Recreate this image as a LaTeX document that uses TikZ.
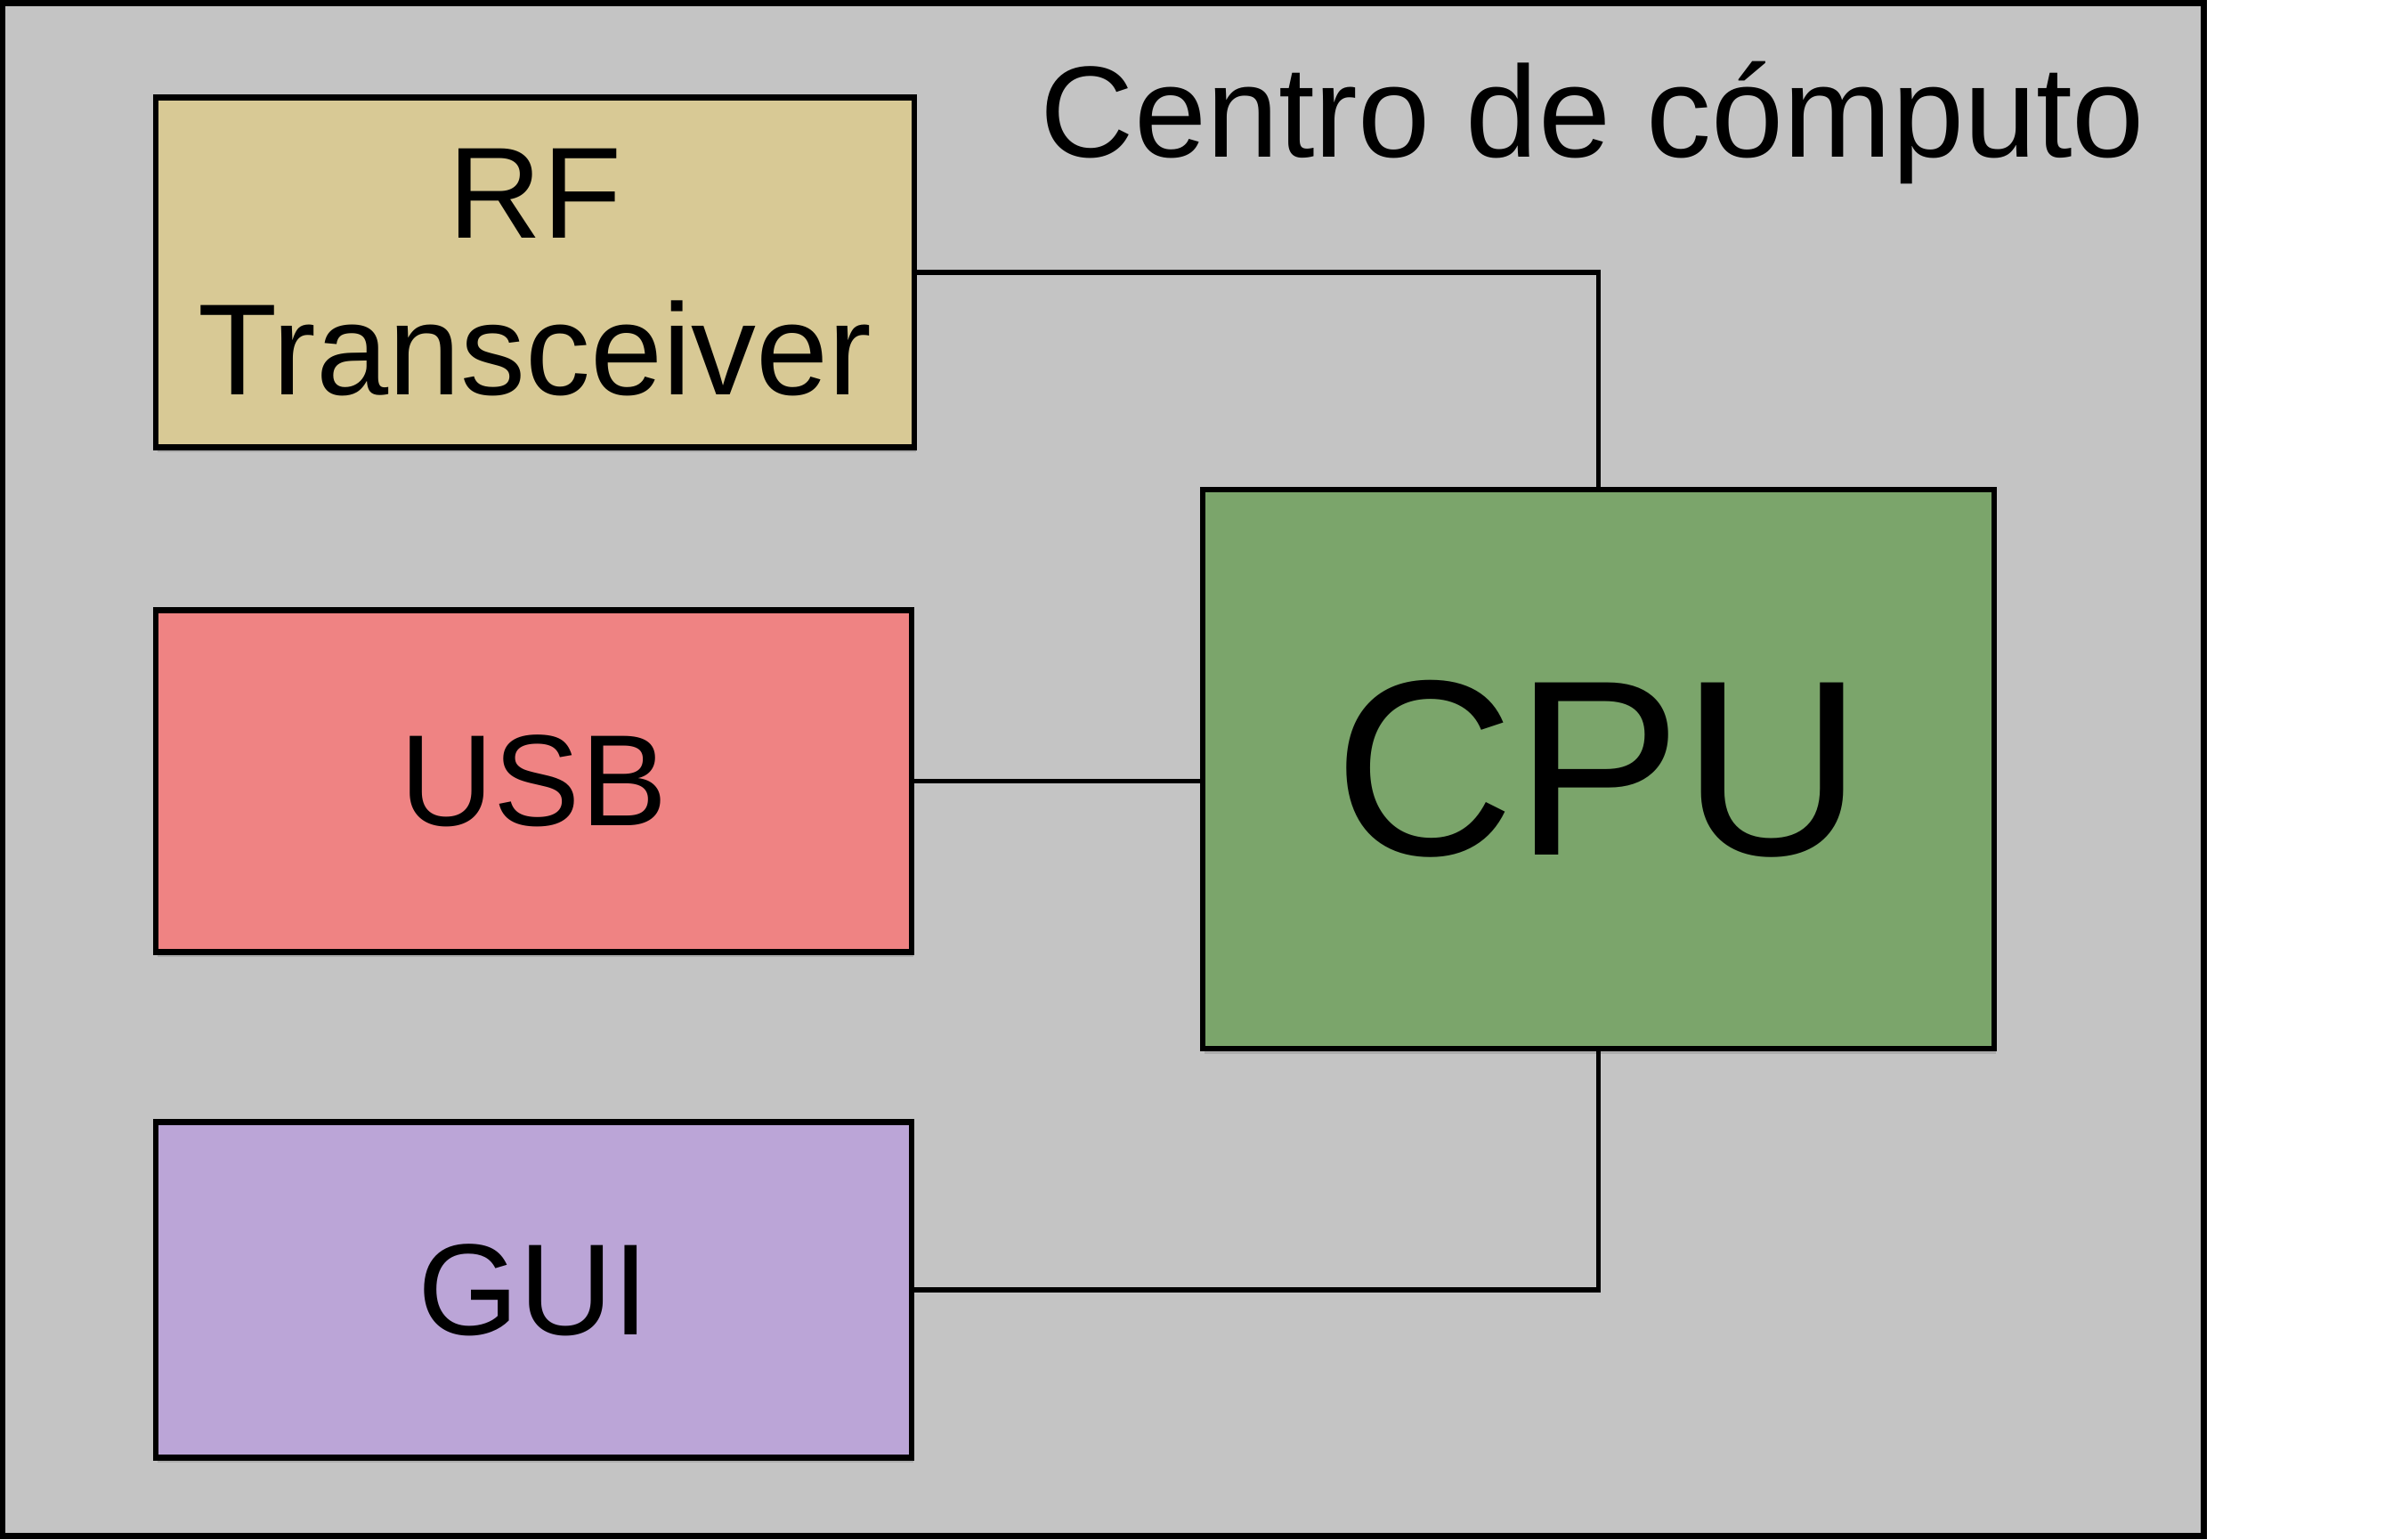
\documentclass[tikz,border=0pt]{standalone}
\usepackage{fontspec}
\setmainfont{Liberation Sans}
\usetikzlibrary{shadows}
\definecolor{fondo}{RGB}{196,196,196}
\definecolor{rfcolor}{RGB}{216,201,149}
\definecolor{usbcolor}{RGB}{239,131,131}
\definecolor{guicolor}{RGB}{187,165,215}
\definecolor{cpucolor}{RGB}{123,165,107}
\begin{document}
\begin{tikzpicture}[block/.style={draw, line width=1.8pt, inner sep=0pt, align=center, font=\fontsize{41.5}{50}\selectfont, drop shadow={shadow xshift=0.6pt, shadow yshift=-1.6pt, opacity=0.35}},
	link/.style={line width=1.5pt}]
	\useasboundingbox (0,0) rectangle (26.88,17.29);
	\node[draw, fill=fondo, line width=1.8pt, minimum width=24.73cm, minimum height=17.22cm, inner sep=0pt] at (12.39,8.645) (centro) {};
	\node[anchor=base east, inner sep=0pt, font=\fontsize{41.5}{50}\selectfont] at (24.10,15.52) (titulo) {Centro de cómputo};
	\node[block, fill=rfcolor, minimum width=8.52cm, minimum height=3.93cm] at (6.01,14.23) (rf) {RF\\Transceiver};
	\node[block, fill=usbcolor, minimum width=8.49cm, minimum height=3.84cm] at (5.995,8.514) (usb) {USB};
	\node[block, fill=guicolor, minimum width=8.49cm, minimum height=3.77cm] at (5.995,2.80) (gui) {GUI};
	\node[block, fill=cpucolor, minimum width=8.885cm, minimum height=6.28cm, font=\fontsize{80}{96}\selectfont] at (17.955,8.65) (cpu) {CPU};
	\draw[link]
	(rf.east) -| (cpu.north) (usb.east) -- (usb.east -| cpu.west) (gui.east) -| (cpu.south);
\end{tikzpicture}
\end{document}
